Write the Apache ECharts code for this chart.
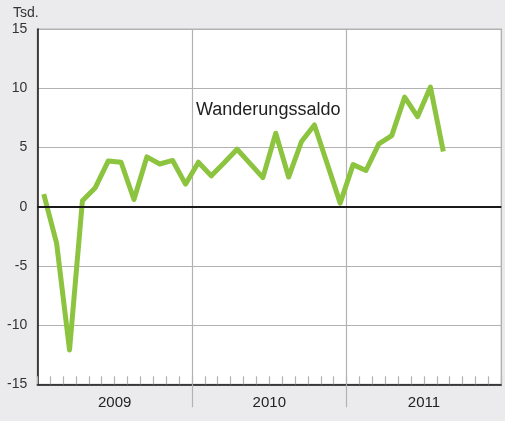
<!DOCTYPE html>
<html>
<head>
<meta charset="utf-8">
<script src="https://cdn.jsdelivr.net/npm/echarts@6/dist/echarts.min.js"></script>
<style>
html,body{margin:0;padding:0;background:#ebebed;}
#chart{width:505px;height:421px;}
</style>
</head>
<body>
<div id="chart"></div>
<script>
var years = ['2009', '2010', '2011'];
var monthNames = ['Jan','Feb','Mär','Apr','Mai','Jun','Jul','Aug','Sep','Okt','Nov','Dez'];
var yTicks = [-15, -10, -5, 0, 5, 10, 15];
var seriesName = 'Wanderungssaldo';
var saldo = [1.05, -3.1, -12.1, 0.5, 1.6, 3.85, 3.75, 0.6, 4.2, 3.6, 3.9, 1.9,
             3.75, 2.6, 3.7, 4.85, 3.65, 2.45, 6.2, 2.5, 5.5, 6.9, 3.6, 0.3,
             3.55, 3.05, 5.3, 6.0, 9.25, 7.6, 10.1, 4.65];

var months = [];
years.forEach(function (y) { monthNames.forEach(function (m) { months.push(m + ' ' + y); }); });

var chart = echarts.init(document.getElementById('chart'));
var font = 'Liberation Sans, Arial, Helvetica, sans-serif';
var gridGray = '#b2b2b2';
chart.setOption({
  backgroundColor: '#ebebed',
  animation: false,
  title: [
    { text: seriesName, left: 196, top: 101, padding: 0,
      textStyle: { fontFamily: font, fontSize: 18, fontWeight: 'normal', color: '#222' } },
    { text: 'Tsd.', left: 13, top: 6, padding: 0,
      textStyle: { fontFamily: font, fontSize: 14, fontWeight: 'normal', color: '#333' } }
  ],
  grid: { left: 37.3, right: 3.7, top: 29, bottom: 36.7, show: true,
          backgroundColor: '#fff', borderColor: gridGray, borderWidth: 1.2 },
  xAxis: [
    { type: 'category', data: months, boundaryGap: true, position: 'bottom',
      axisLine: { show: true, onZero: false, lineStyle: { color: '#111', width: 1.5 } },
      axisTick: { show: true, inside: true, length: 8, interval: 0,
                  lineStyle: { color: gridGray, width: 1.2 } },
      axisLabel: { show: false },
      splitLine: { show: true, interval: function (i) { return i > 0 && i % 12 === 0; },
                   lineStyle: { color: gridGray, width: 1.2 } } },
    { type: 'value', min: 0, max: 36, position: 'bottom',
      axisLine: { show: false, onZero: false },
      axisTick: { show: true, inside: false, length: 23, customValues: [12, 24],
                  lineStyle: { color: gridGray, width: 1.2 } },
      axisLabel: { show: true, customValues: [6, 18, 30], margin: 11,
                   fontFamily: font, fontSize: 15, color: '#222',
                   formatter: function (v) { return years[Math.round((v - 6) / 12)]; } },
      splitLine: { show: false } }
  ],
  yAxis: {
    type: 'value', min: yTicks[0], max: yTicks[yTicks.length - 1], interval: 5,
    axisLine: { show: true, lineStyle: { color: '#111', width: 1.5 } },
    axisTick: { show: false },
    axisLabel: { margin: 10, fontFamily: font, fontSize: 14, color: '#333' },
    splitLine: { show: true, lineStyle: { color: gridGray, width: 1.2 } }
  },
  series: [{
    name: seriesName, type: 'line', data: saldo, xAxisIndex: 0,
    symbol: 'none', smooth: false,
    lineStyle: { color: '#8cc43f', width: 5, join: 'round', cap: 'butt' },
    markLine: { silent: true, symbol: ['none', 'none'], label: { show: false },
                lineStyle: { color: '#1a1a1a', width: 2, type: 'solid' },
                data: [{ yAxis: 0 }] },
    z: 3
  }]
});
</script>
</body>
</html>
